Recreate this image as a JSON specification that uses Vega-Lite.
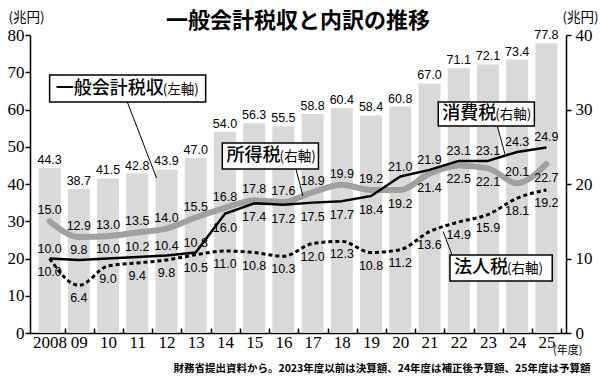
{
  "$schema": "https://vega.github.io/schema/vega-lite/v6.json",
  "width": 536,
  "height": 298,
  "autosize": "none",
  "padding": {"left": 30, "top": 35, "right": 34, "bottom": 47},
  "background": "white",
  "config": {
    "view": {"stroke": null},
    "font": "Noto Sans CJK JP",
    "axis": {"grid": false, "domainColor": "black", "tickColor": "black", "labelColor": "black", "titleColor": "black", "domainWidth": 1.5, "tickWidth": 1.5, "labelFont": "Liberation Serif", "labelFontSize": 17}
  },
  "title": {"text": "一般会計税収と内訳の推移", "fontSize": 22, "font": "Noto Sans CJK JP", "fontWeight": "bold", "anchor": "middle", "color": "black", "dy": 27},
  "datasets": {
    "main": [
      {"year": 2008, "total": 44.3, "income": 15.0, "consumption": 10.0, "corporate": 10.0},
      {"year": 2009, "total": 38.7, "income": 12.9, "consumption": 9.8, "corporate": 6.4},
      {"year": 2010, "total": 41.5, "income": 13.0, "consumption": 10.0, "corporate": 9.0},
      {"year": 2011, "total": 42.8, "income": 13.5, "consumption": 10.2, "corporate": 9.4},
      {"year": 2012, "total": 43.9, "income": 14.0, "consumption": 10.4, "corporate": 9.8},
      {"year": 2013, "total": 47.0, "income": 15.5, "consumption": 10.8, "corporate": 10.5},
      {"year": 2014, "total": 54.0, "income": 16.8, "consumption": 16.0, "corporate": 11.0},
      {"year": 2015, "total": 56.3, "income": 17.8, "consumption": 17.4, "corporate": 10.8},
      {"year": 2016, "total": 55.5, "income": 17.6, "consumption": 17.2, "corporate": 10.3},
      {"year": 2017, "total": 58.8, "income": 18.9, "consumption": 17.5, "corporate": 12.0},
      {"year": 2018, "total": 60.4, "income": 19.9, "consumption": 17.7, "corporate": 12.3},
      {"year": 2019, "total": 58.4, "income": 19.2, "consumption": 18.4, "corporate": 10.8},
      {"year": 2020, "total": 60.8, "income": 19.2, "consumption": 21.0, "corporate": 11.2},
      {"year": 2021, "total": 67.0, "income": 21.4, "consumption": 21.9, "corporate": 13.6},
      {"year": 2022, "total": 71.1, "income": 22.5, "consumption": 23.1, "corporate": 14.9},
      {"year": 2023, "total": 72.1, "income": 22.1, "consumption": 23.1, "corporate": 15.9},
      {"year": 2024, "total": 73.4, "income": 20.1, "consumption": 24.3, "corporate": 18.1},
      {"year": 2025, "total": 77.8, "income": 22.7, "consumption": 24.9, "corporate": 19.2}
    ],
    "notes": [
      {"name": "一般会計税収", "small": "(左軸)", "x1": 2008.0, "x2": 2013.34, "y1": 34.63, "y2": 31.0, "tx": 2008.21, "sx": 2011.87, "ty": 32.8, "lx1": 2010.66, "ly1": 31.0, "lx2": 2011.66, "ly2": 20.8},
      {"name": "所得税", "small": "(右軸)", "x1": 2013.91, "x2": 2017.2, "y1": 25.5, "y2": 22.01, "tx": 2014.05, "sx": 2015.87, "ty": 23.76, "lx1": 2016.43, "ly1": 22.01, "lx2": 2016.67, "ly2": 18.39},
      {"name": "消費税", "small": "(右軸)", "x1": 2021.3, "x2": 2024.59, "y1": 31.0, "y2": 27.79, "tx": 2021.44, "sx": 2023.25, "ty": 29.4, "lx1": 2023.32, "ly1": 27.79, "lx2": 2023.58, "ly2": 24.03},
      {"name": "法人税", "small": "(右軸)", "x1": 2021.7, "x2": 2025.2, "y1": 10.47, "y2": 6.98, "tx": 2021.84, "sx": 2023.65, "ty": 8.72, "lx1": 2021.47, "ly1": 13.6, "lx2": 2021.77, "ly2": 10.47}
    ]
  },
  "layer": [
    {
      "data": {"name": "main"},
      "encoding": {
        "x": {"field": "year", "type": "quantitative", "scale": {"domain": [2007.5, 2025.5], "nice": false, "zero": false},
          "axis": {"orient": "bottom", "values": [2008, 2009, 2010, 2011, 2012, 2013, 2014, 2015, 2016, 2017, 2018, 2019, 2020, 2021, 2022, 2023, 2024, 2025],
            "labelExpr": "datum.value == 2008 ? '2008' : slice(toString(datum.value), 2)", "labelFlush": false, "labelOverlap": false, "tickOffset": 14.9, "labelOffset": -14.9, "tickSize": -5, "labelPadding": 6, "labelAngle": 0,
            "title": "財務省提出資料から。2023年度以前は決算額、24年度は補正後予算額、25年度は予算額", "titleFont": "Noto Sans CJK JP", "titleFontSize": 10.5, "titleFontWeight": "bold", "titleAnchor": "end", "titleAlign": "right", "titleX": 560, "titleY": 35, "titleBaseline": "middle"}},
        "y": {"field": "total", "type": "quantitative", "scale": {"domain": [0, 80], "nice": false},
          "axis": {"orient": "left", "values": [0, 10, 20, 30, 40, 50, 60, 70, 80], "tickSize": 5, "labelPadding": 1, "title": "(兆円)", "titleAngle": 0, "titleX": -22, "titleY": -18, "titleAlign": "left", "titleBaseline": "middle", "titleFont": "Noto Sans CJK JP", "titleFontSize": 13.5, "titleFontWeight": "normal"}}
      },
      "layer": [
        {"mark": {"type": "bar", "color": "#d9d9d9", "width": 22}},
        {"mark": {"type": "text", "baseline": "bottom", "dy": -1, "fontSize": 12.5, "font": "Liberation Sans", "color": "black"},
          "encoding": {"text": {"field": "total", "type": "quantitative", "format": ".1f"}}}
      ]
    },
    {
      "layer": [
        {
          "data": {"name": "main"},
          "mark": {"type": "line", "color": "#a0a0a0", "strokeWidth": 6, "interpolate": "monotone", "strokeCap": "round", "strokeJoin": "round"},
          "encoding": {
            "x": {"field": "year", "type": "quantitative", "axis": null},
            "y": {"field": "income", "type": "quantitative", "scale": {"domain": [0, 40], "nice": false},
              "axis": {"orient": "right", "values": [0, 5, 10, 15, 20, 25, 30, 35, 40], "tickSize": 5, "labelPadding": 4, "title": "(兆円)", "titleAngle": 0, "titleX": -4, "titleY": -18, "titleAlign": "left", "titleBaseline": "middle", "titleFont": "Noto Sans CJK JP", "titleFontSize": 13.5, "titleFontWeight": "normal"}}
          }
        },
        {
          "data": {"name": "main"},
          "mark": {"type": "line", "color": "black", "strokeWidth": 2.5, "strokeJoin": "round"},
          "encoding": {
            "x": {"field": "year", "type": "quantitative", "axis": null},
            "y": {"field": "consumption", "type": "quantitative"}
          }
        },
        {
          "data": {"name": "main"},
          "mark": {"type": "line", "color": "black", "strokeWidth": 3, "strokeDash": [4, 3], "interpolate": "monotone"},
          "encoding": {
            "x": {"field": "year", "type": "quantitative", "axis": null},
            "y": {"field": "corporate", "type": "quantitative"}
          }
        },
        {
          "data": {"name": "main"},
          "transform": [{"filter": {"field": "year", "oneOf": [2008, 2009, 2010, 2011, 2012, 2013, 2014, 2015, 2016, 2017, 2018, 2019, 2024]}}],
          "mark": {"type": "text", "baseline": "middle", "dy": -11, "fontSize": 12.5, "font": "Liberation Sans", "color": "black"},
          "encoding": {
            "x": {"field": "year", "type": "quantitative", "axis": null},
            "y": {"field": "income", "type": "quantitative"},
            "text": {"field": "income", "type": "quantitative", "format": ".1f"}
          }
        },
        {
          "data": {"name": "main"},
          "transform": [{"filter": {"field": "year", "oneOf": [2020, 2021, 2022, 2023, 2025]}}],
          "mark": {"type": "text", "baseline": "middle", "dy": 14, "fontSize": 12.5, "font": "Liberation Sans", "color": "black"},
          "encoding": {
            "x": {"field": "year", "type": "quantitative", "axis": null},
            "y": {"field": "income", "type": "quantitative"},
            "text": {"field": "income", "type": "quantitative", "format": ".1f"}
          }
        },
        {
          "data": {"name": "main"},
          "transform": [{"filter": {"field": "year", "oneOf": [2008, 2009, 2010, 2011, 2012, 2013, 2020, 2021, 2022, 2023, 2024, 2025]}}],
          "mark": {"type": "text", "baseline": "middle", "dy": -10, "fontSize": 12.5, "font": "Liberation Sans", "color": "black"},
          "encoding": {
            "x": {"field": "year", "type": "quantitative", "axis": null},
            "y": {"field": "consumption", "type": "quantitative"},
            "text": {"field": "consumption", "type": "quantitative", "format": ".1f"}
          }
        },
        {
          "data": {"name": "main"},
          "transform": [{"filter": {"field": "year", "oneOf": [2014, 2015, 2016, 2017, 2018, 2019]}}],
          "mark": {"type": "text", "baseline": "middle", "dy": 14, "fontSize": 12.5, "font": "Liberation Sans", "color": "black"},
          "encoding": {
            "x": {"field": "year", "type": "quantitative", "axis": null},
            "y": {"field": "consumption", "type": "quantitative"},
            "text": {"field": "consumption", "type": "quantitative", "format": ".1f"}
          }
        },
        {
          "data": {"name": "main"},
          "mark": {"type": "text", "baseline": "middle", "dy": 13, "fontSize": 12.5, "font": "Liberation Sans", "color": "black"},
          "encoding": {
            "x": {"field": "year", "type": "quantitative", "axis": null},
            "y": {"field": "corporate", "type": "quantitative"},
            "text": {"field": "corporate", "type": "quantitative", "format": ".1f"}
          }
        },
        {
          "data": {"name": "notes"},
          "mark": {"type": "rule", "color": "black", "strokeWidth": 1},
          "encoding": {
            "x": {"field": "lx1", "type": "quantitative", "axis": null},
            "x2": {"field": "lx2"},
            "y": {"field": "ly1", "type": "quantitative"},
            "y2": {"field": "ly2"}
          }
        },
        {
          "data": {"name": "notes"},
          "mark": {"type": "rect", "fill": "white", "stroke": "black", "strokeWidth": 1.5},
          "encoding": {
            "x": {"field": "x1", "type": "quantitative", "axis": null},
            "x2": {"field": "x2"},
            "y": {"field": "y1", "type": "quantitative"},
            "y2": {"field": "y2"}
          }
        },
        {
          "data": {"name": "notes"},
          "mark": {"type": "text", "align": "left", "baseline": "middle", "fontSize": 18, "font": "Noto Sans CJK JP", "fontWeight": 500, "color": "black"},
          "encoding": {
            "x": {"field": "tx", "type": "quantitative", "axis": null},
            "y": {"field": "ty", "type": "quantitative"},
            "text": {"field": "name"}
          }
        },
        {
          "data": {"name": "notes"},
          "mark": {"type": "text", "align": "left", "baseline": "middle", "dy": 1, "fontSize": 13.5, "font": "Noto Sans CJK JP", "color": "black"},
          "encoding": {
            "x": {"field": "sx", "type": "quantitative", "axis": null},
            "y": {"field": "ty", "type": "quantitative"},
            "text": {"field": "small"}
          }
        },
        {
          "data": {"name": "main"},
          "transform": [{"filter": {"field": "year", "equal": 2025}}],
          "mark": {"type": "text", "align": "left", "baseline": "middle", "fontSize": 11, "font": "Noto Sans CJK JP", "color": "black"},
          "encoding": {
            "x": {"datum": 2025.23, "type": "quantitative", "axis": null},
            "y": {"datum": -2.4, "type": "quantitative"},
            "text": {"value": "(年度)"}
          }
        }
      ]
    }
  ],
  "resolve": {"scale": {"y": "independent"}, "axis": {"x": "independent", "y": "independent"}}
}
